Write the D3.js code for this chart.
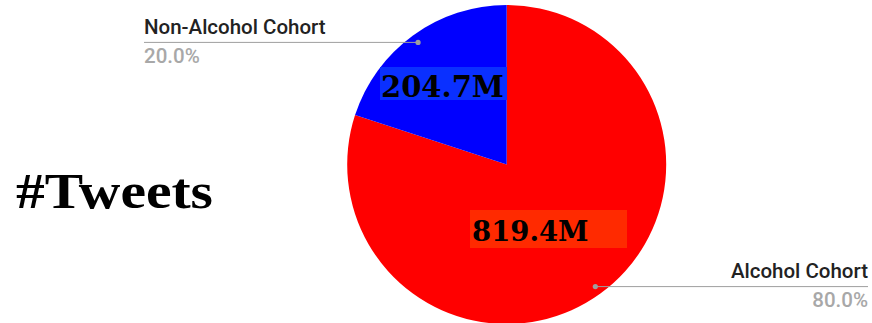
<!DOCTYPE html>
<html>
<head>
<meta charset="utf-8">
<script src="https://cdn.jsdelivr.net/npm/d3@7/dist/d3.min.js"></script>
<style>
  html, body { margin: 0; padding: 0; background: #fff; }
  svg { display: block; }
</style>
</head>
<body>
<svg id="chart" width="872" height="323"></svg>
<script>
// Tweet counts per cohort (millions)
const cohorts = ["Alcohol Cohort", "Non-Alcohol Cohort"];
const tweets = [819.4, 204.7];
const valueLabels = ["819.4M", "204.7M"];
const sliceColors = ["#ff0000", "#0000ff"];
const labelBoxColors = ["#ff2a00", "#0a30ff"];
const chartTitle = "#Tweets";

const W = 872, H = 323;
const cx = 506.7, cy = 164.5, R = 159.5;

const svg = d3.select("#chart");
const total = d3.sum(tweets);
const data = cohorts.map((c, i) => ({ name: c, value: tweets[i], label: valueLabels[i], color: sliceColors[i], box: labelBoxColors[i] }));

const pie = d3.pie().sort(null).value(d => d.value);
const arcs = pie(data);
const arc = d3.arc().innerRadius(0).outerRadius(R);
const dotArc = d3.arc().innerRadius(R * 0.946).outerRadius(R * 0.946);

const g = svg.append("g").attr("transform", `translate(${cx},${cy})`);

g.selectAll("path.slice")
  .data(arcs)
  .join("path")
  .attr("class", "slice")
  .attr("d", arc)
  .attr("fill", d => d.data.color);

// Leader lines and legend text on each side
const pct = d3.format(".1%");
const sideX = { left: 144, right: 868 };
arcs.forEach(a => {
  const [dx, dy] = dotArc.centroid(a);
  const px = cx + dx, py = cy + dy;
  const left = px < cx;
  const endX = left ? sideX.left : sideX.right;
  svg.append("line")
    .attr("x1", px).attr("y1", py).attr("x2", endX).attr("y2", py)
    .attr("stroke", "#9e9e9e").attr("stroke-width", 1);
  svg.append("circle").attr("cx", px).attr("cy", py).attr("r", 2.6).attr("fill", "#9e9e9e");
  svg.append("text")
    .attr("x", endX).attr("y", py - 8.3)
    .attr("text-anchor", left ? "start" : "end")
    .attr("font-family", "Roboto")
    .attr("font-weight", 500)
    .attr("font-size", 20.5)
    .attr("fill", "#222")
    .text(a.data.name);
  svg.append("text")
    .attr("x", endX).attr("y", py + 20.2)
    .attr("text-anchor", left ? "start" : "end")
    .attr("font-family", "Roboto")
    .attr("font-weight", 500)
    .attr("font-size", 20.5)
    .attr("fill", "#a8a8a8")
    .text(pct(a.data.value / total));
});

// Highlighted value labels inside the slices
const boxPlacement = {
  "Alcohol Cohort": { x: -36.7, y: 45.5, w: 157, h: 38, tx: 2, ty: 30.5, size: 27.5 },
  "Non-Alcohol Cohort": { x: -126.7, y: -97.5, w: 127, h: 33, tx: 1, ty: 29.5, size: 29 }
};
arcs.forEach(a => {
  const p = boxPlacement[a.data.name];
  const bg = g.append("g").attr("transform", `translate(${p.x},${p.y})`);
  bg.append("rect").attr("width", p.w).attr("height", p.h).attr("fill", a.data.box);
  bg.append("text")
    .attr("x", p.tx).attr("y", p.ty)
    .attr("font-family", "'DejaVu Serif', serif")
    .attr("font-weight", "bold")
    .attr("font-size", p.size)
    .attr("fill", "#000")
    .text(a.data.label);
});

svg.append("text")
  .attr("x", 16).attr("y", 208)
  .attr("font-family", "'Liberation Serif', serif")
  .attr("font-weight", "bold")
  .attr("font-size", 50)
  .attr("textLength", 197)
  .attr("lengthAdjust", "spacingAndGlyphs")
  .attr("fill", "#000")
  .text(chartTitle);
</script>
</body>
</html>
